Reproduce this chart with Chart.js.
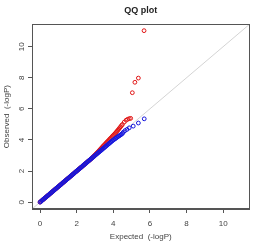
<!DOCTYPE html>
<html>
<head>
<meta charset="utf-8">
<script src="https://cdn.jsdelivr.net/npm/chart.js@4"></script>
<style>
  html, body { margin: 0; padding: 0; background: #fff; }
</style>
</head>
<body>
<canvas id="qq" width="264" height="248"></canvas>
<script>
// expected -logP values along the dense part of the band
var expected = [
  0.00, 0.05, 0.10, 0.15, 0.20, 0.25, 0.30, 0.35, 0.40, 0.45,
  0.50, 0.55, 0.60, 0.65, 0.70, 0.75, 0.80, 0.85, 0.90, 0.95,
  1.00, 1.05, 1.10, 1.15, 1.20, 1.25, 1.30, 1.35, 1.40, 1.45,
  1.50, 1.55, 1.60, 1.65, 1.70, 1.75, 1.80, 1.85, 1.90, 1.95,
  2.00, 2.05, 2.10, 2.15, 2.20, 2.25, 2.30, 2.35, 2.40, 2.45,
  2.50, 2.55, 2.60, 2.65, 2.70, 2.75, 2.80, 2.85, 2.90, 2.95,
  3.00, 3.05, 3.10, 3.15, 3.20, 3.25, 3.30, 3.35, 3.40, 3.45,
  3.50, 3.55, 3.60, 3.65, 3.70, 3.75, 3.80, 3.85, 3.90, 3.95,
  4.00, 4.05, 4.10, 4.15, 4.20, 4.25, 4.30, 4.35, 4.40, 4.45,
  4.50
];

// blue series (observed)
var blueObs = [
  0.00, 0.05, 0.10, 0.15, 0.20, 0.25, 0.30, 0.35, 0.40, 0.45,
  0.50, 0.55, 0.60, 0.65, 0.70, 0.75, 0.80, 0.85, 0.90, 0.95,
  1.00, 1.05, 1.10, 1.15, 1.20, 1.25, 1.30, 1.35, 1.40, 1.45,
  1.50, 1.55, 1.60, 1.65, 1.70, 1.75, 1.80, 1.85, 1.90, 1.95,
  2.00, 2.05, 2.10, 2.15, 2.20, 2.25, 2.30, 2.35, 2.40, 2.45,
  2.50, 2.55, 2.60, 2.65, 2.70, 2.75, 2.80, 2.85, 2.90, 2.95,
  3.00, 3.05, 3.10, 3.15, 3.20, 3.25, 3.30, 3.35, 3.40, 3.45,
  3.50, 3.55, 3.60, 3.65, 3.70, 3.75, 3.80, 3.85, 3.90, 3.95,
  4.00, 4.04, 4.08, 4.12, 4.17, 4.21, 4.25, 4.29, 4.33, 4.37,
  4.42
];
var blueTailX = [4.55, 4.64, 4.75, 4.87, 5.09, 5.37, 5.69];
var blueTailY = [4.50, 4.60, 4.68, 4.78, 4.89, 5.09, 5.36];

// red series (observed)
var redObs = [
  0.00, 0.05, 0.10, 0.15, 0.20, 0.25, 0.30, 0.35, 0.40, 0.45,
  0.50, 0.55, 0.60, 0.65, 0.70, 0.75, 0.80, 0.85, 0.90, 0.95,
  1.00, 1.05, 1.10, 1.15, 1.20, 1.25, 1.30, 1.35, 1.40, 1.45,
  1.50, 1.55, 1.60, 1.65, 1.70, 1.75, 1.80, 1.85, 1.90, 1.95,
  2.00, 2.05, 2.10, 2.15, 2.20, 2.25, 2.30, 2.35, 2.40, 2.45,
  2.50, 2.55, 2.60, 2.65, 2.70, 2.75, 2.80, 2.86, 2.92, 2.98,
  3.04, 3.10, 3.16, 3.22, 3.28, 3.35, 3.42, 3.48, 3.55, 3.61,
  3.67, 3.73, 3.80, 3.86, 3.92, 3.98, 4.05, 4.11, 4.17, 4.24,
  4.30, 4.36, 4.42, 4.49, 4.56, 4.63, 4.70, 4.78, 4.85, 4.93,
  5.00
];
var redTailX = [4.60, 4.70, 4.78, 4.87, 4.95, 5.04, 5.18, 5.37, 5.68];
var redTailY = [5.15, 5.27, 5.33, 5.37, 5.39, 7.04, 7.71, 7.98, 11.03];

var diagLine = [-1, 12];
var axisTicks = [0, 2, 4, 6, 8, 10];
var axisMin = -0.44, axisMax = 11.44;

function toPoints(xs, ys) {
  return xs.map(function (x, i) { return { x: x, y: ys[i] }; });
}

var bluePts = toPoints(expected, blueObs).concat(toPoints(blueTailX, blueTailY));
var redPts = toPoints(expected, redObs).concat(toPoints(redTailX, redTailY));
var linePts = toPoints(diagLine, diagLine);

// R style box around the plot region
const boxPlugin = {
  id: 'box',
  afterDraw(chart) {
    const a = chart.chartArea, ctx = chart.ctx;
    ctx.save();
    ctx.strokeStyle = '#555';
    ctx.lineWidth = 1;
    const l = Math.round(a.left) + 0.5, t = Math.round(a.top) + 0.5;
    const r = Math.round(a.right) - 0.5, b = Math.round(a.bottom) - 0.5;
    ctx.strokeRect(l, t, r - l, b - t);
    ctx.restore();
  }
};

const pointStyle = {
  showLine: false,
  pointStyle: 'circle',
  pointRadius: 1.9,
  pointBorderWidth: 1,
  pointBackgroundColor: 'rgba(0,0,0,0)',
};

const tickFont = { family: 'Liberation Sans, Arial, sans-serif', size: 8 };

new Chart(document.getElementById('qq'), {
  type: 'scatter',
  data: {
    datasets: [
      Object.assign({ label: 'blue', data: bluePts, pointBorderColor: '#1414dc' }, pointStyle),
      Object.assign({ label: 'red', data: redPts, pointBorderColor: '#e01414' }, pointStyle),
      {
        label: 'diag',
        type: 'line',
        data: linePts,
        borderColor: '#d4d4d4',
        borderWidth: 1,
        pointRadius: 0,
        clip: 0
      }
    ]
  },
  options: {
    responsive: false,
    animation: false,
    events: [],
    layout: { padding: { left: 0, right: 14.5, top: 0, bottom: 0 } },
    plugins: {
      legend: { display: false },
      tooltip: { enabled: false },
      title: {
        display: true,
        text: 'QQ plot',
        fullSize: false,
        color: '#222',
        font: { family: 'Liberation Sans, Arial, sans-serif', size: 9, weight: 'bold' },
        padding: { top: 5, bottom: 8.5 }
      }
    },
    scales: {
      x: {
        type: 'linear',
        min: axisMin,
        max: axisMax,
        afterBuildTicks: function (s) { s.ticks = axisTicks.map(function (v) { return { value: v }; }); },
        afterFit: function (s) { s.height = 39; },
        grid: { drawOnChartArea: false, drawTicks: true, tickLength: 4, color: '#555' },
        border: { display: true, color: '#555' },
        ticks: { color: '#444', font: tickFont, padding: 5.5, maxRotation: 0, autoSkip: false },
        title: {
          display: true,
          text: 'Expected  (-logP)',
          color: '#444',
          font: tickFont,
          padding: { top: 0, bottom: 6 }
        }
      },
      y: {
        type: 'linear',
        min: axisMin,
        max: axisMax,
        afterBuildTicks: function (s) { s.ticks = axisTicks.map(function (v) { return { value: v }; }); },
        afterFit: function (s) { s.width = 32; },
        grid: { drawOnChartArea: false, drawTicks: true, tickLength: 4, color: '#555' },
        border: { display: true, color: '#555' },
        ticks: {
          color: '#444', font: tickFont, padding: 1.5,
          minRotation: 90, maxRotation: 90, crossAlign: 'center', autoSkip: false
        },
        title: {
          display: true,
          text: 'Observed  (-logP)',
          color: '#444',
          font: tickFont,
          padding: { top: 1.5, bottom: 0 }
        }
      }
    }
  },
  plugins: [boxPlugin]
});
</script>
</body>
</html>
